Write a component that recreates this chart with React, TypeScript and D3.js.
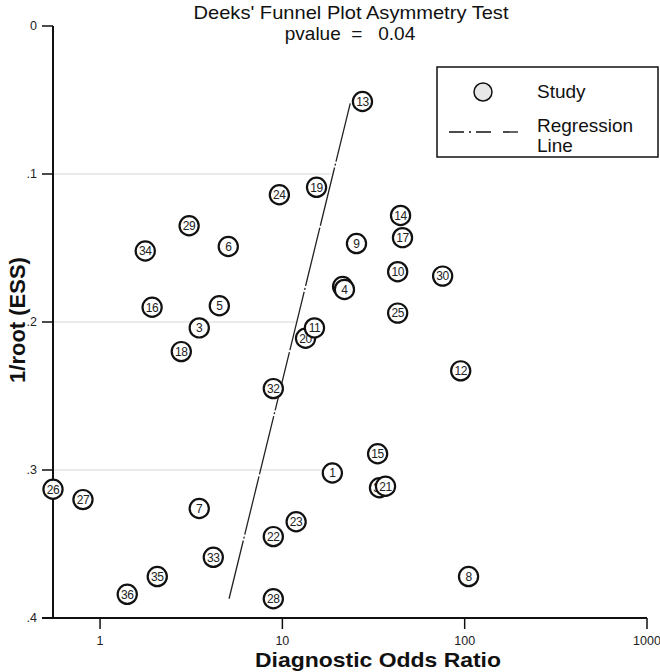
import React from "react";
import * as d3 from "d3";

// Study labels, diagnostic odds ratios and 1/sqrt(ESS), listed in drawing order
const studyIds = ["1","2","3","4","5","6","7","8","9","10","20","11","12","13","14","15","16","17","18","19","31","21","22","23","24","25","26","27","28","29","30","32","33","34","35","36"];
const dorValues = [18.8,21.4,3.5,21.9,4.51,5.05,3.5,105,25.5,42.9,13.4,15.0,95.1,27.5,44.5,33.3,1.93,45.6,2.79,15.4,34.1,36.8,8.92,11.9,9.63,42.9,0.552,0.806,8.92,3.08,75.7,8.92,4.18,1.77,2.06,1.41];
const essValues = [0.302,0.176,0.204,0.178,0.189,0.149,0.326,0.372,0.147,0.166,0.211,0.204,0.233,0.051,0.128,0.289,0.19,0.143,0.22,0.109,0.312,0.311,0.345,0.335,0.114,0.194,0.313,0.32,0.387,0.135,0.169,0.245,0.359,0.152,0.372,0.384];

// Regression line end points (DOR, 1/root(ESS))
const regDor = [5.1, 23.6];
const regEss = [0.387, 0.052];

// Axis ticks
const xTicks = [1, 10, 100, 1000];
const xTickLabels = ["1", "10", "100", "1000"];
const yTicks = [0, 0.1, 0.2, 0.3, 0.4];
const yTickLabels = ["0", ".1", ".2", ".3", ".4"];
// Reference grid lines (y value, DOR where the faint line ends)
const gridY = [0.1, 0.2, 0.3];
const gridEndDor = [18.4, 12.2, 17.2];

const W = 660;
const H = 672;
const FONT = "'Liberation Sans', Arial, sans-serif";

export default function App() {
  const x = d3.scaleLog().domain([0.552, 1000]).range([53, 647]);
  const y = d3.scaleLinear().domain([0, 0.4]).range([26, 618]);
  const x0 = x.range()[0];
  const yBottom = y.range()[1];
  const tick = 11;

  const line = d3
    .line<number>()
    .x((_, i) => x(regDor[i]))
    .y((_, i) => y(regEss[i]));

  const pts = studyIds.map((id, i) => ({ id, dx: dorValues[i], dy: essValues[i] }));

  const legX = 437, legY = 67, legW = 221, legH = 90;

  return (
    <svg width={W} height={H} style={{ position: "absolute", left: 0, top: 0, background: "#fff" }} fontFamily={FONT}>
      <rect x={0} y={0} width={W} height={H} fill="#fff" />
      {/* title */}
      <text x={351} y={19} textAnchor="middle" fontSize={19} fill="#111" textLength={315} lengthAdjust="spacingAndGlyphs">Deeks' Funnel Plot Asymmetry Test</text>
      <text x={350} y={40} textAnchor="middle" fontSize={19} fill="#111" style={{ whiteSpace: "pre" }}>{"pvalue  =   0.04"}</text>

      {/* grid */}
      {gridY.map((g, i) => (
        <line key={"g" + i} x1={x0} x2={x(gridEndDor[i])} y1={y(g)} y2={y(g)} stroke="#e4e4e4" strokeWidth={1.5} />
      ))}

      {/* axes */}
      <line x1={x0} x2={x0} y1={y(0)} y2={yBottom} stroke="#111" strokeWidth={2} />
      <line x1={x0 - tick} x2={x(1000)} y1={yBottom} y2={yBottom} stroke="#111" strokeWidth={2} />
      {yTicks.map((t, i) => (
        <g key={"yt" + i}>
          <line x1={x0 - tick} x2={x0} y1={y(t)} y2={y(t)} stroke="#111" strokeWidth={1.5} />
          <text x={x0 - 16} y={y(t) + 4} textAnchor="end" fontSize={12.5} fill="#222">{yTickLabels[i]}</text>
        </g>
      ))}
      {xTicks.map((t, i) => (
        <g key={"xt" + i}>
          <line x1={x(t)} x2={x(t)} y1={yBottom} y2={yBottom + tick} stroke="#111" strokeWidth={1.5} />
          <text x={x(t)} y={yBottom + 27} textAnchor="middle" fontSize={12.5} fill="#222">{xTickLabels[i]}</text>
        </g>
      ))}
      <text x={378} y={667} textAnchor="middle" fontSize={21} fontWeight="bold" fill="#111" textLength={246} lengthAdjust="spacingAndGlyphs">Diagnostic Odds Ratio</text>
      <text transform={`translate(25,320) rotate(-90)`} textAnchor="middle" fontSize={22} fontWeight="bold" fill="#111">1/root (ESS)</text>

      {/* regression line */}
      <path d={line(regDor) || ""} fill="none" stroke="#222" strokeWidth={1.3} strokeDasharray="60,2,2,2,60,2" />

      {/* studies */}
      {pts.map((p) => (
        <g key={"p" + p.id}>
          <circle cx={x(p.dx)} cy={y(p.dy)} r={9.6} fill="#fff" stroke="#111" strokeWidth={2.2} />
          <text x={x(p.dx)} y={y(p.dy) + 4.3} textAnchor="middle" fontSize={12} letterSpacing={-0.4} fill="#222">{p.id}</text>
        </g>
      ))}

      {/* legend */}
      <rect x={legX} y={legY} width={legW} height={legH} fill="#fff" stroke="#111" strokeWidth={1.5} />
      <circle cx={legX + 46} cy={legY + 25} r={9} fill="#e8e8e8" stroke="#111" strokeWidth={1.5} />
      <text x={legX + 100} y={legY + 31} fontSize={19} fill="#111">Study</text>
      <line x1={legX + 12} x2={legX + 83} y1={legY + 65} y2={legY + 65} stroke="#111" strokeWidth={1.3} strokeDasharray="15,5,2,5,15,12" />
      <text x={legX + 100} y={legY + 65} fontSize={19} fill="#111">Regression</text>
      <text x={legX + 100} y={legY + 85} fontSize={19} fill="#111">Line</text>
    </svg>
  );
}
